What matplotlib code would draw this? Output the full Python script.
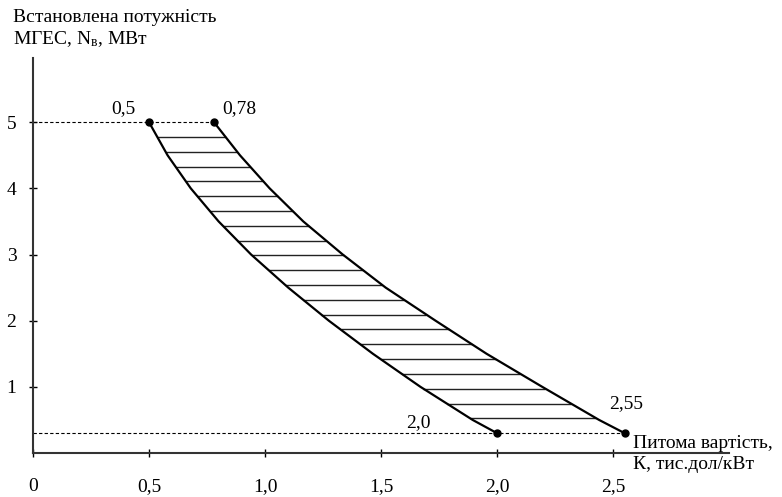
import matplotlib
matplotlib.use("Agg")
import matplotlib.pyplot as plt
import numpy as np

plt.rcParams['font.family'] = ['Liberation Serif', 'DejaVu Serif']
plt.rcParams['mathtext.fontset'] = 'custom'
plt.rcParams['mathtext.rm'] = 'Liberation Serif'

# Installed capacity levels, MW (shared by both boundary curves)
power_n = [5.0, 4.5, 4.0, 3.5, 3.0, 2.5, 2.0, 1.5, 1.0, 0.5, 0.3]

# Specific cost, thousand $/kW: lower and upper boundary
left_k = [0.50, 0.58, 0.68, 0.80, 0.94, 1.10, 1.275, 1.465, 1.67, 1.895, 2.00]
right_k = [0.78, 0.892, 1.02, 1.165, 1.335, 1.52, 1.735, 1.955, 2.195, 2.44, 2.55]

# End points and their labels
end_k = [0.50, 0.78, 2.00, 2.55]
end_n = [5.00, 5.00, 0.30, 0.30]
end_labels = ['0,5', '0,78', '2,0', '2,55']
label_pos = [(0.39, 5.14), (0.89, 5.14), (1.66, 0.39), (2.556, 0.68)]

xticks = [0, 0.5, 1.0, 1.5, 2.0, 2.5]
xtick_labels = ['0', '0,5', '1,0', '1,5', '2,0', '2,5']
yticks = [1, 2, 3, 4, 5]

n_hatch = 20

fig = plt.figure(figsize=(7.82, 4.97), dpi=100)
ax = fig.add_axes([33 / 782, 44 / 497, 696 / 782, 395 / 497])
ax.set_xlim(0, 3.0)
ax.set_ylim(0, 5.97)

# hatching between the two curves
n_top, n_bot = 5.0, 0.3
levels = n_bot + (n_top - n_bot) * np.arange(1, n_hatch + 1) / (n_hatch + 1)
xl = np.interp(levels, power_n[::-1], left_k[::-1])
xr = np.interp(levels, power_n[::-1], right_k[::-1])
ax.hlines(levels, xl, xr, color='#222222', lw=1.0)

ax.plot(left_k, power_n, color='black', lw=1.6)
ax.plot(right_k, power_n, color='black', lw=1.6)

# dashed guide lines
ax.plot([0, 0.78], [5.0, 5.0], color='black', lw=0.8, ls=(0, (3, 2)))
ax.plot([0, 2.55], [0.3, 0.3], color='black', lw=0.8, ls=(0, (3, 2)))

ax.plot(end_k, end_n, 'o', color='black', ms=5, zorder=5)
for lab, (x, y) in zip(end_labels, label_pos):
    ax.text(x, y, lab, ha='center', va='baseline', fontsize=14)

for s in ['top', 'right']:
    ax.spines[s].set_visible(False)
for s in ['left', 'bottom']:
    ax.spines[s].set_linewidth(1.5)
    ax.spines[s].set_color('#333333')

ax.set_xticks(xticks)
ax.set_xticklabels(xtick_labels)
ax.set_yticks(yticks)
ax.tick_params(axis='x', direction='inout', length=6, width=1, pad=15, labelsize=14)
ax.tick_params(axis='y', direction='inout', length=6, width=1, pad=9, labelsize=14)

fig.text(13 / 782, 1 - 9 / 497, 'Встановлена потужність\nМГЕС, $\\mathrm{N_{в}}$, МВт',
         ha='left', va='top', fontsize=14, linespacing=1.2)
ax.text(2.586, 0.27, 'Питома вартість,\nК, тис.дол/кВт', ha='left', va='top',
        fontsize=14, linespacing=1.3, clip_on=False)

fig.savefig('out.png', dpi=100)
